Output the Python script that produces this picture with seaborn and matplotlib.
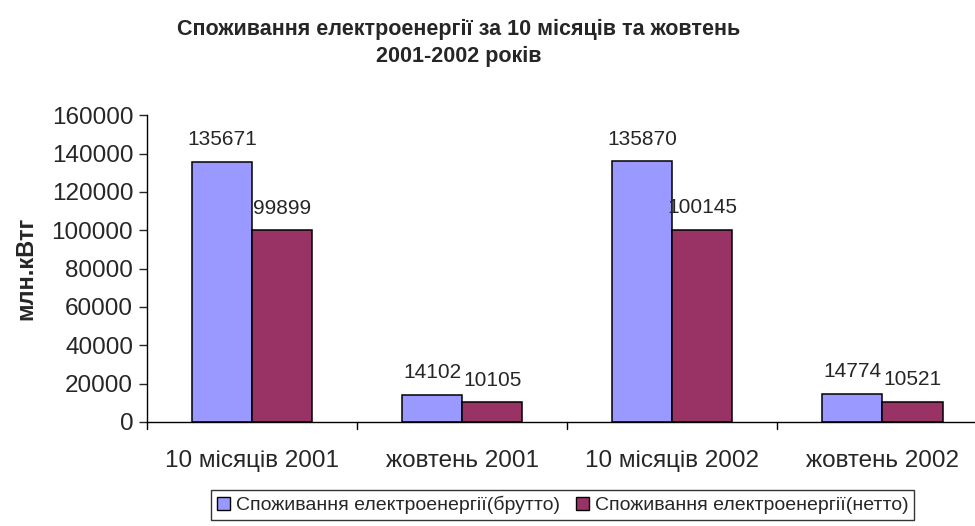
import matplotlib
matplotlib.use("Agg")
import matplotlib.pyplot as plt
import seaborn as sns
import pandas as pd

categories = ["10 місяців 2001", "жовтень 2001", "10 місяців 2002", "жовтень 2002"]
series_names = ["Споживання електроенергії(брутто)", "Споживання електроенергії(нетто)"]
brutto = [135671, 14102, 135870, 14774]
netto = [99899, 10105, 100145, 10521]
colors = ["#9999FF", "#993366"]

df = pd.DataFrame({
    "cat": categories * 2,
    "series": [series_names[0]] * 4 + [series_names[1]] * 4,
    "value": brutto + netto,
})

sns.set_style("white")
plt.rcParams["font.family"] = ["Liberation Sans", "DejaVu Sans"]

fig = plt.figure(figsize=(9.75, 5.26), dpi=100)
ax = fig.add_axes([0.1508, 0.198, 0.862, 0.583])

sns.barplot(data=df, x="cat", y="value", hue="series", order=categories,
            hue_order=series_names, palette=colors, width=0.572,
            edgecolor="black", linewidth=1.1, saturation=1, ax=ax)

for cont in ax.containers:
    ax.bar_label(cont, fmt="%d", padding=9, fontsize=15)

ax.set_ylim(0, 160000)
ax.set_yticks(range(0, 160001, 20000))
ax.tick_params(axis="y", labelsize=17.5, length=6, width=1, direction="out", left=True, pad=4)
ax.tick_params(axis="x", labelsize=17.5, length=0, pad=20)
ax.set_xlabel("")
ax.set_ylabel("млн.кВтг", fontsize=17, fontweight="bold", labelpad=10)
for s in ["top", "right"]:
    ax.spines[s].set_visible(False)
for s in ["left", "bottom"]:
    ax.spines[s].set_color("black")
    ax.spines[s].set_linewidth(1)
# category separator ticks
for i in range(len(categories) + 1):
    ax.plot([i - 0.5, i - 0.5], [0, -3500], color="black", lw=1, clip_on=False)
ax.set_xlim(-0.5, len(categories) - 0.5)

fig.text(0.47, 0.965, "Споживання електроенергії за 10 місяців та жовтень\n2001-2002 років",
         ha="center", va="top", fontsize=15.5, fontweight="bold",
         family=["Liberation Sans Narrow", "Liberation Sans"], linespacing=1.4)

ax.legend_.remove()
handles = [plt.Rectangle((0, 0), 1, 1, facecolor=c, edgecolor="black", lw=1) for c in colors]
leg = fig.legend(handles, series_names, loc="center", bbox_to_anchor=(0.577, 0.04), ncol=2,
                 frameon=True, fancybox=False, edgecolor="black", fontsize=14,
                 handlelength=0.7, handleheight=0.7, handletextpad=0.3, columnspacing=0.8,
                 borderpad=0.3, borderaxespad=0)
leg.get_frame().set_linewidth(1)

fig.savefig("out.png", dpi=100)
